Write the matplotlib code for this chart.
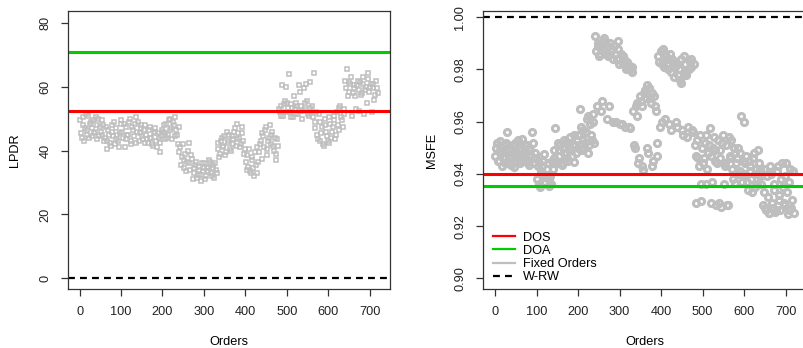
import numpy as np
import matplotlib.pyplot as plt
from matplotlib.lines import Line2D

plt.rcParams['font.family'] = ['Liberation Sans', 'DejaVu Sans']
plt.rcParams['font.size'] = 9.2

# Orders (two interleaved sets of orders)
orders_a = np.arange(1, 721, 4)
orders_b = np.arange(3, 721, 4)

# LPDR for fixed orders
lpdr_a = [49.5, 44.0, 50.5, 47.0, 45.0, 51.0, 48.5, 44.5, 49.5, 46.0, 43.5, 50.0, 47.5, 45.0, 48.0,
          44.0, 40.5, 46.5, 42.5, 48.0, 44.5, 42.0, 47.0, 43.0, 45.5,
          49.5, 44.0, 41.0, 47.5, 45.0, 50.0, 43.0, 46.5, 48.5, 42.5, 49.0, 45.5, 47.0, 43.5, 48.0,
          45.0, 42.5, 47.5, 44.0, 41.5, 46.0, 43.0, 45.5, 39.5, 44.5,
          46.0, 43.5, 48.5, 45.0, 50.0, 47.0, 49.0, 44.5, 46.5, 42.0,
          39.5, 35.5, 42.0, 37.0, 33.5, 40.0, 36.0, 38.5,
          31.0, 34.5, 36.5, 32.5, 35.0, 30.5, 33.5, 36.0, 32.0, 34.5, 37.0, 33.0, 35.5, 31.5, 34.0,
          40.5, 38.0, 43.0, 41.0, 44.5, 39.5, 42.5, 45.0, 40.0, 43.5, 46.0, 41.5, 48.5, 44.0, 42.0,
          45.5, 39.0,
          36.5, 34.0, 40.5, 33.0, 38.0, 32.0, 35.5, 41.0,
          39.5, 43.0, 45.5, 41.0, 47.5, 38.5, 44.0, 42.0, 46.0, 40.0, 37.0, 43.5,
          53.0, 51.0, 60.5, 54.5, 52.0, 55.0, 64.0, 50.5, 53.5, 57.0, 51.5, 54.0, 60.5, 52.5, 50.0,
          59.5, 53.0, 55.5, 51.0, 61.5,
          54.0, 64.5, 49.0, 45.0, 51.5, 43.0, 47.5, 41.5, 50.0, 44.5, 42.5, 48.5, 46.0, 51.0, 43.5,
          52.0, 46.5, 54.0, 49.5, 53.0,
          62.0, 65.5, 58.5, 61.0, 51.0, 59.5, 57.0, 60.5, 52.5, 61.5, 58.0, 63.0, 59.0, 55.0, 64.5,
          60.0, 52.0, 61.0, 57.5, 59.5]
lpdr_b = [45.5, 48.0, 43.0, 51.5, 46.5, 44.0, 49.0, 47.0, 45.5, 50.5, 48.0, 44.5, 46.0, 49.5, 43.0,
          47.5, 43.0, 45.0, 41.5, 46.0, 49.0, 43.5, 45.0, 41.0, 48.5,
          46.0, 48.5, 43.5, 45.0, 49.0, 42.0, 47.5, 44.5, 50.5, 46.0, 43.0, 48.0, 44.5, 46.5, 42.5,
          43.5, 46.5, 44.0, 42.0, 45.5, 47.0, 41.0, 44.0, 42.5, 46.5,
          48.0, 45.5, 44.0, 49.5, 46.5, 43.5, 48.0, 50.5, 45.0, 47.5,
          41.0, 38.0, 34.5, 39.0, 36.5, 42.5, 34.0, 37.5,
          33.0, 35.5, 31.5, 34.0, 32.5, 36.0, 34.5, 31.0, 35.0, 33.5, 36.5, 32.0, 34.5, 36.0, 33.0,
          42.5, 39.0, 44.0, 41.5, 38.5, 46.0, 43.0, 40.5, 44.5, 42.0, 47.0, 43.5, 45.5, 41.0, 47.5,
          43.0, 40.5,
          38.5, 35.0, 33.5, 37.0, 34.5, 39.5, 33.0, 36.5,
          42.0, 37.5, 44.5, 46.5, 40.5, 43.0, 48.0, 45.0, 41.5, 44.0, 39.0, 41.5,
          52.0, 54.0, 51.0, 55.5, 60.0, 53.5, 52.0, 54.5, 50.5, 53.0, 55.0, 51.5, 58.5, 54.0, 52.5,
          55.0, 61.0, 51.5, 53.5, 52.0,
          50.5, 47.0, 52.0, 43.5, 49.0, 45.5, 42.0, 48.0, 46.0, 43.0, 50.5, 44.0, 47.5, 49.5, 45.0,
          48.0, 53.5, 50.5, 47.5, 51.5,
          59.5, 57.0, 61.5, 63.0, 58.0, 60.5, 53.0, 62.0, 59.0, 57.5, 61.0, 51.5, 60.0, 62.5, 58.5,
          61.0, 59.5, 56.0, 62.0, 58.0]

# MSFE for fixed orders
msfe_a = [0.947, 0.952, 0.945, 0.949, 0.943, 0.951, 0.9465, 0.956, 0.944, 0.950, 0.948, 0.9425, 0.952,
          0.946, 0.950, 0.944, 0.9535, 0.947, 0.945, 0.951, 0.9435, 0.949, 0.956, 0.946, 0.948,
          0.938, 0.944, 0.935, 0.940, 0.9475, 0.937, 0.942, 0.9355, 0.939, 0.945,
          0.946, 0.9575, 0.944, 0.949, 0.951, 0.9435, 0.948, 0.952, 0.946, 0.950, 0.954, 0.947, 0.9445,
          0.951, 0.953,
          0.955, 0.965, 0.949, 0.957, 0.952, 0.961, 0.948, 0.959, 0.953, 0.963,
          0.993, 0.966, 0.989, 0.986, 0.968, 0.991, 0.987, 0.961, 0.985, 0.990, 0.988, 0.960, 0.986,
          0.984, 0.991, 0.959, 0.983, 0.985, 0.958, 0.981, 0.982, 0.9575, 0.979,
          0.964, 0.950, 0.967, 0.944, 0.970, 0.966, 0.9415, 0.972, 0.974, 0.948, 0.969, 0.971, 0.945,
          0.966, 0.952,
          0.985, 0.958, 0.982, 0.988, 0.961, 0.984, 0.980, 0.986, 0.957, 0.983, 0.981, 0.960, 0.978,
          0.976, 0.984, 0.955, 0.982, 0.979, 0.958, 0.983, 0.981, 0.956,
          0.951, 0.929, 0.946, 0.955, 0.9295, 0.944, 0.952, 0.936, 0.948, 0.9575, 0.929, 0.950, 0.945,
          0.928, 0.953,
          0.949, 0.9275, 0.955, 0.943, 0.951, 0.928, 0.946, 0.953, 0.938, 0.948, 0.944, 0.950, 0.941,
          0.962, 0.945,
          0.940, 0.947, 0.934, 0.943, 0.938, 0.946, 0.935, 0.942, 0.949, 0.939,
          0.936, 0.928, 0.942, 0.926, 0.931, 0.925, 0.940, 0.927, 0.934, 0.926, 0.943, 0.930, 0.938,
          0.935, 0.929, 0.944, 0.9245, 0.937, 0.927, 0.941]
msfe_b = [0.950, 0.945, 0.9525, 0.948, 0.946, 0.944, 0.952, 0.949, 0.947, 0.9435, 0.951, 0.948, 0.945,
          0.953, 0.947, 0.949, 0.945, 0.951, 0.948, 0.9445, 0.950, 0.947, 0.952, 0.944, 0.946,
          0.943, 0.936, 0.941, 0.945, 0.9365, 0.939, 0.944, 0.938, 0.936, 0.942,
          0.949, 0.945, 0.952, 0.947, 0.944, 0.950, 0.953, 0.948, 0.945, 0.952, 0.949, 0.951, 0.955,
          0.948, 0.950,
          0.951, 0.958, 0.953, 0.950, 0.956, 0.962, 0.951, 0.955, 0.960, 0.952,
          0.987, 0.990, 0.985, 0.964, 0.988, 0.992, 0.986, 0.989, 0.966, 0.987, 0.984, 0.989, 0.960,
          0.988, 0.982, 0.986, 0.959, 0.984, 0.980, 0.983, 0.958, 0.980, 0.981,
          0.951, 0.966, 0.962, 0.946, 0.968, 0.943, 0.971, 0.969, 0.950, 0.973, 0.967, 0.943, 0.970,
          0.964, 0.947,
          0.983, 0.987, 0.960, 0.981, 0.985, 0.982, 0.959, 0.979, 0.984, 0.977, 0.982, 0.958, 0.980,
          0.975, 0.957, 0.985, 0.978, 0.954, 0.980, 0.984, 0.957, 0.982,
          0.947, 0.953, 0.943, 0.936, 0.950, 0.946, 0.955, 0.942, 0.951, 0.947, 0.937, 0.954, 0.949,
          0.944, 0.929,
          0.946, 0.952, 0.936, 0.944, 0.928, 0.954, 0.947, 0.942, 0.950, 0.9365, 0.946, 0.940, 0.948,
          0.937, 0.960,
          0.944, 0.937, 0.945, 0.941, 0.933, 0.948, 0.940, 0.936, 0.944, 0.942,
          0.940, 0.933, 0.927, 0.939, 0.925, 0.943, 0.929, 0.936, 0.9255, 0.941, 0.932, 0.926, 0.944,
          0.928, 0.939, 0.933, 0.926, 0.942, 0.930, 0.925]

# benchmark lines: DOS, DOA, W-RW
lpdr_dos, lpdr_doa, lpdr_wrw = 52.5, 70.8, 0.0
msfe_dos, msfe_doa, msfe_wrw = 0.940, 0.9353, 1.0

gray = '#BEBEBE'
red = '#FF0000'
green = '#00CD00'
dash = (0, (3.1, 2.3))

fig = plt.figure(figsize=(8.04, 3.48), dpi=100)
W, H = 804, 348
ax1 = fig.add_axes([68 / W, (H - 289) / H, 322 / W, 278 / H])
ax2 = fig.add_axes([483 / W, (H - 289) / H, 323 / W, 278 / H])

# left panel
for o, v in ((orders_a, lpdr_a), (orders_b, lpdr_b)):
    ax1.plot(o, v, ls='none', marker='s', ms=3.3, mfc='none', mec=gray, mew=1.1)
ax1.axhline(lpdr_dos, color=red, lw=2.2)
ax1.axhline(lpdr_doa, color=green, lw=2.2)
ax1.axhline(lpdr_wrw, color='black', lw=1.6, ls=dash)
ax1.set_xlim(-28, 749)
ax1.set_ylim(-3.4, 83.8)
ax1.set_yticks([0, 20, 40, 60, 80])
ax1.set_ylabel('LPDR', va='center')
ax1.yaxis.set_label_coords(-0.165, 0.5)

# right panel
for o, v in ((orders_a, msfe_a), (orders_b, msfe_b)):
    ax2.plot(o, v, ls='none', marker='o', ms=4.4, mfc='none', mec=gray, mew=2.2)
ax2.axhline(msfe_dos, color=red, lw=2.2)
ax2.axhline(msfe_doa, color=green, lw=2.2)
ax2.axhline(msfe_wrw, color='black', lw=1.6, ls=dash)
ax2.set_xlim(-29, 749)
ax2.set_ylim(0.8959, 1.0024)
ax2.set_yticks([0.90, 0.92, 0.94, 0.96, 0.98, 1.00])
ax2.set_yticklabels(['0.90', '0.92', '0.94', '0.96', '0.98', '1.00'])
ax2.set_ylabel('MSFE', va='center')
ax2.yaxis.set_label_coords(-0.158, 0.5)

handles = [Line2D([], [], color=red, lw=1.6),
           Line2D([], [], color=green, lw=1.6),
           Line2D([], [], color=gray, lw=1.6),
           Line2D([], [], color='black', lw=1.6, ls=dash)]
ax2.legend(handles, ['DOS', 'DOA', 'Fixed Orders', 'W-RW'], loc='lower left',
           bbox_to_anchor=(0.03, 0.02), frameon=False, borderpad=0, borderaxespad=0,
           handlelength=1.75, handletextpad=0.65, labelspacing=0.1, fontsize=9.2)

for ax in (ax1, ax2):
    ax.set_xticks([0, 100, 200, 300, 400, 500, 600, 700])
    ax.set_xlabel('Orders', va='center')
    ax.xaxis.set_label_coords(0.5, -0.19)
    for s in ax.spines.values():
        s.set_color('#333333')
        s.set_linewidth(0.9)
    ax.tick_params(direction='out', length=5, width=0.9, pad=7, colors='#333333',
                   labelcolor='#222222')
    for lab in ax.get_yticklabels():
        lab.set_rotation(90)
        lab.set_va('center')

fig.savefig('out.png', dpi=100)
